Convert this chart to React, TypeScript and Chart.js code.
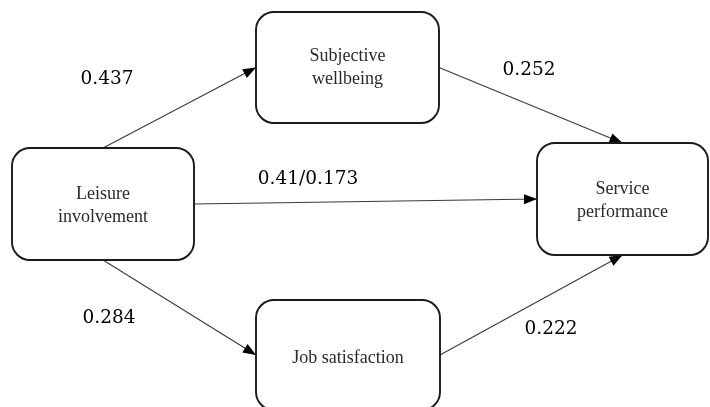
import { useEffect, useRef } from "react";
import { Chart, registerables } from "chart.js";
Chart.register(...registerables);

// ---- data ----
const nodeNames = ["Leisure\ninvolvement", "Subjective\nwellbeing", "Service\nperformance", "Job satisfaction"];
const nodeX = [103, 347.5, 622.5, 348];
const nodeY = [204, 67.5, 199, 355];
const edgeFrom = [0, 0, 0, 1, 3];
const edgeTo = [1, 2, 3, 2, 2];
const coefficients = ["0.437", "0.41/0.173", "0.284", "0.252", "0.222"];

// ---- layout / style ----
const BOX_W = [182, 183, 171, 184];
const BOX_H = [112, 111, 112, 110];
const TEXT_DY = [2, 0, 2, 3];
const FROM_SIDE = ["top", "right", "bottom", "right", "right"];
const TO_SIDE = ["left", "left", "left", "top", "bottom"];
const LABEL_POS = [
  [107, 79],
  [308, 179],
  [109, 318],
  [529, 70],
  [551, 329],
];

function anchor(i: number, side: string) {
  const x = nodeX[i], y = nodeY[i], w = BOX_W[i] / 2, h = BOX_H[i] / 2;
  if (side === "top") return { x, y: y - h };
  if (side === "bottom") return { x, y: y + h };
  if (side === "left") return { x: x - w, y };
  return { x: x + w, y };
}

export default function App() {
  const ref = useRef<HTMLCanvasElement>(null);
  useEffect(() => {
    document.body.style.margin = "0";
    const datasets = edgeFrom.map((f, k) => ({
      label: coefficients[k],
      data: [anchor(f, FROM_SIDE[k]), anchor(edgeTo[k], TO_SIDE[k])],
      showLine: true,
      borderColor: "#3a3a3a",
      borderWidth: 1.1,
      pointRadius: 0,
    }));
    const diagram = {
      id: "diagram",
      afterDatasetsDraw(chart: any) {
        const ctx = chart.ctx;
        const xs = chart.scales.x, ys = chart.scales.y;
        ctx.save();
        // arrowheads
        edgeFrom.forEach((f, k) => {
          const a = anchor(f, FROM_SIDE[k]);
          const b = anchor(edgeTo[k], TO_SIDE[k]);
          const x1 = xs.getPixelForValue(a.x), y1 = ys.getPixelForValue(a.y);
          const x2 = xs.getPixelForValue(b.x), y2 = ys.getPixelForValue(b.y);
          const ang = Math.atan2(y2 - y1, x2 - x1);
          const L = 13, W = 5;
          ctx.beginPath();
          ctx.moveTo(x2, y2);
          ctx.lineTo(x2 - L * Math.cos(ang) + W * Math.sin(ang), y2 - L * Math.sin(ang) - W * Math.cos(ang));
          ctx.lineTo(x2 - L * Math.cos(ang) - W * Math.sin(ang), y2 - L * Math.sin(ang) + W * Math.cos(ang));
          ctx.closePath();
          ctx.fillStyle = "#000";
          ctx.fill();
        });
        // boxes
        nodeNames.forEach((name, i) => {
          const l = xs.getPixelForValue(nodeX[i] - BOX_W[i] / 2);
          const r = xs.getPixelForValue(nodeX[i] + BOX_W[i] / 2);
          const t = ys.getPixelForValue(nodeY[i] - BOX_H[i] / 2);
          const b = ys.getPixelForValue(nodeY[i] + BOX_H[i] / 2);
          ctx.beginPath();
          ctx.roundRect(l, t, r - l, b - t, 18);
          ctx.fillStyle = "#fff";
          ctx.fill();
          ctx.lineWidth = 1.9;
          ctx.strokeStyle = "#1a1a1a";
          ctx.stroke();
          const lines = name.split("\n");
          ctx.font = "18px 'Liberation Serif'";
          ctx.fillStyle = "#2a2a2a";
          ctx.textAlign = "center";
          ctx.textBaseline = "middle";
          const cx = (l + r) / 2, cy = (t + b) / 2 + TEXT_DY[i];
          const lh = 23;
          lines.forEach((ln, j) => {
            ctx.fillText(ln, cx, cy + (j - (lines.length - 1) / 2) * lh);
          });
        });
        // coefficients
        ctx.font = "18.5px 'DejaVu Serif'";
        ctx.fillStyle = "#000";
        ctx.textAlign = "center";
        ctx.textBaseline = "middle";
        coefficients.forEach((c, k) => {
          ctx.fillText(c, xs.getPixelForValue(LABEL_POS[k][0]), ys.getPixelForValue(LABEL_POS[k][1]));
        });
        ctx.restore();
      },
    };
    const chart = new Chart(ref.current!, {
      type: "scatter",
      data: { datasets },
      options: {
        animation: false,
        responsive: false,
        maintainAspectRatio: false,
        devicePixelRatio: 1,
        layout: { padding: 0 },
        scales: {
          x: { type: "linear", min: 0, max: 710, display: false },
          y: { type: "linear", min: 0, max: 407, reverse: true, display: false },
        },
        plugins: { legend: { display: false }, tooltip: { enabled: false } },
      },
      plugins: [diagram],
    } as any);
    return () => chart.destroy();
  }, []);
  return (
    <div style={{ position: "fixed", left: 0, top: 0, width: 710, height: 407, background: "#fff" }}>
      <canvas ref={ref} width={710} height={407} style={{ width: 710, height: 407, display: "block" }} />
    </div>
  );
}
